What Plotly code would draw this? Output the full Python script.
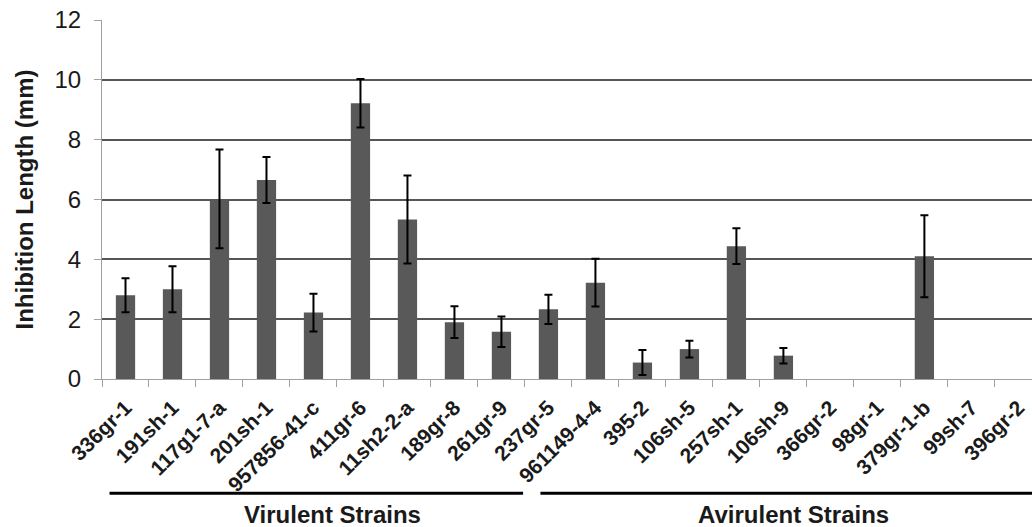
import plotly.graph_objects as go

strains = ["336gr-1", "191sh-1", "117g1-7-a", "201sh-1", "957856-41-c", "411gr-6",
           "11sh2-2-a", "189gr-8", "261gr-9", "237gr-5", "961149-4-4", "395-2",
           "106sh-5", "257sh-1", "106sh-9", "366gr-2", "98gr-1", "379gr-1-b",
           "99sh-7", "396gr-2"]
inhibition = [2.8, 3.0, 6.02, 6.65, 2.22, 9.22, 5.33, 1.9, 1.58, 2.33, 3.22, 0.55,
              1.0, 4.44, 0.78, 0, 0, 4.1, 0, 0]
error = [0.57, 0.77, 1.65, 0.77, 0.63, 0.81, 1.47, 0.53, 0.51, 0.49, 0.8, 0.42,
         0.28, 0.6, 0.26, 0, 0, 1.37, 0, 0]
groups = ["Virulent Strains", "Avirulent Strains"]
y_ticks = [0, 2, 4, 6, 8, 10, 12]

FONT = "Liberation Sans, Arial, sans-serif"

fig = go.Figure()
fig.add_trace(go.Bar(
    x=strains, y=inhibition,
    marker=dict(color="#595959", line=dict(width=0)),
    width=0.41,
))
# error bars only where an error was measured
idx = [i for i, e in enumerate(error) if e > 0]
fig.add_trace(go.Scatter(
    x=[strains[i] for i in idx], y=[inhibition[i] for i in idx],
    mode="markers", marker=dict(size=1, opacity=0),
    error_y=dict(type="data", array=[error[i] for i in idx], visible=True,
                 color="#000000", thickness=2, width=4),
    hoverinfo="skip",
))

shapes = []
annotations = []
line_y = -0.318
label_y = -0.377
ends = [(-0.34, 8.46), (8.83, 19.6)]
label_x = [4.4, 14.22]
for g, (x0, x1), lx in zip(groups, ends, label_x):
    shapes.append(dict(type="line", xref="x", yref="paper", x0=x0, x1=x1,
                       y0=line_y, y1=line_y, line=dict(color="#000000", width=3)))
    annotations.append(dict(text="<b>%s</b>" % g, xref="x", yref="paper", x=lx, y=label_y,
                            showarrow=False, font=dict(size=24, color="#1a1a1a", family=FONT),
                            xanchor="center", yanchor="middle"))

fig.update_layout(
    width=1032, height=527,
    margin=dict(l=102, r=0, t=20, b=147.5),
    plot_bgcolor="#ffffff", paper_bgcolor="#ffffff",
    showlegend=False,
    shapes=shapes, annotations=annotations,
    font=dict(family=FONT, color="#1a1a1a"),
    xaxis=dict(
        range=[-0.5, 19.29], tickangle=-45, tickson="boundaries",
        ticks="outside", ticklen=7, tickcolor="#a0a0a0",
        showline=True, linecolor="#a0a0a0", linewidth=1,
        showgrid=False, ticklabelstandoff=7,
        tickfont=dict(size=21, family=FONT, color="#1a1a1a"),
        tickprefix="<b>", ticksuffix="</b>",
    ),
    yaxis=dict(
        range=[0, 12], tickvals=y_ticks,
        ticks="outside", ticklen=7, tickcolor="#a0a0a0",
        showline=True, linecolor="#a0a0a0", linewidth=1,
        showgrid=True, gridcolor="#555555", gridwidth=1.5,
        zeroline=False, ticklabelstandoff=8,
        tickfont=dict(size=24, family=FONT, color="#1a1a1a"),
        title=dict(text="<b>Inhibition Length (mm)</b>", font=dict(size=24, family=FONT, color="#1a1a1a"),
                   standoff=14),
    ),
)
fig.write_html("out.html", config={"displayModeBar": False},
               post_script="document.body.style.margin='0';document.body.style.overflow='hidden';")
